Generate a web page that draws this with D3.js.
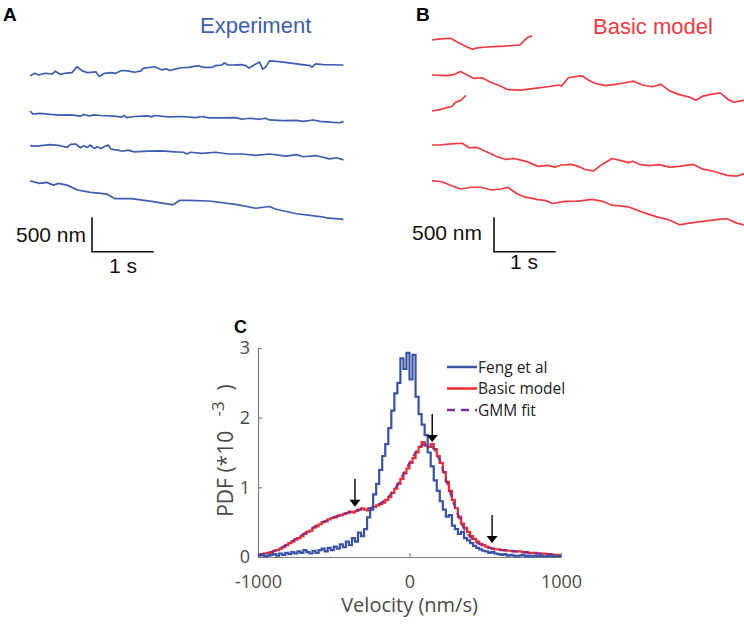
<!DOCTYPE html>
<html><head><meta charset="utf-8">
<script src="https://cdn.jsdelivr.net/npm/d3@7"></script>
<style>body{margin:0;background:#fff}svg{display:block}</style>
</head><body>
<svg id="chart" width="744" height="626"></svg>
<script>
// ---------- DATA ----------
// Panel A: experimental traces, [time (s), displacement (nm)]
const expTrace1 = [[0,0],[0.08,35],[0.14,10],[0.25,35],[0.36,25],[0.41,65],[0.49,20],[0.57,35],[0.68,45],[0.76,130],[0.85,70],[0.93,45],[1.07,55],[1.12,-10],[1.21,35],[1.31,45],[1.39,35],[1.48,75],[1.59,70],[1.69,50],[1.80,70],[1.83,105],[2.02,130],[2.13,85],[2.21,100],[2.27,75],[2.35,95],[2.45,115],[2.57,120],[2.73,145],[2.81,120],[2.95,120],[3.00,145],[3.11,155],[3.15,185],[3.21,155],[3.28,155],[3.42,160],[3.50,145],[3.55,110],[3.63,155],[3.72,200],[3.77,95],[3.82,125],[3.88,215],[4.04,205],[4.54,145],[4.57,125],[4.63,170],[4.75,160],[5.08,155]];
const expTrace2 = [[0,0],[0.05,-45],[0.16,-35],[0.33,-50],[0.49,-60],[0.66,-55],[0.82,-75],[0.87,-50],[0.96,-70],[1.04,-55],[1.15,-65],[1.37,-75],[1.48,-90],[1.53,-65],[1.56,-95],[1.69,-80],[1.91,-70],[1.97,-85],[2.02,-65],[2.24,-85],[2.46,-80],[2.68,-95],[2.79,-80],[2.90,-100],[3.11,-100],[3.33,-95],[3.44,-120],[3.55,-105],[3.72,-120],[3.82,-105],[3.88,-130],[4.10,-140],[4.32,-135],[4.43,-150],[4.59,-130],[4.70,-150],[4.92,-165],[5.03,-170],[5.08,-150]];
const expTrace3 = [[0,0],[0.11,-5],[0.33,15],[0.49,0],[0.60,-25],[0.66,20],[0.74,25],[0.82,-30],[0.87,0],[0.93,-25],[0.98,10],[1.04,-40],[1.09,-15],[1.15,-40],[1.20,-15],[1.27,10],[1.31,-50],[1.42,-65],[1.50,-80],[1.59,-65],[1.69,-90],[1.91,-80],[2.13,-75],[2.35,-90],[2.49,-95],[2.54,-120],[2.60,-95],[2.79,-110],[3.01,-95],[3.22,-120],[3.44,-120],[3.66,-140],[3.88,-120],[4.15,-150],[4.32,-130],[4.43,-160],[4.64,-145],[4.86,-190],[4.97,-175],[5.08,-205]];
const expTrace4 = [[0,0],[0.16,-35],[0.27,-20],[0.38,-60],[0.46,-35],[0.60,-60],[0.77,-130],[0.98,-165],[1.15,-180],[1.26,-195],[1.37,-255],[1.64,-255],[1.97,-295],[2.32,-345],[2.43,-280],[2.57,-280],[2.90,-290],[3.33,-340],[3.66,-395],[3.88,-370],[3.99,-410],[4.32,-475],[4.70,-515],[4.81,-535],[5.08,-555]];
// Panel B: basic model traces
const modelTrace1 = [[0,0],[0.13,15],[0.30,25],[0.40,-25],[0.51,-75],[0.65,-135],[0.73,-115],[0.84,-105],[1.00,-95],[1.17,-90],[1.31,-80],[1.43,-70],[1.50,0],[1.55,35],[1.62,60]];
const modelTrace2 = [[0,0],[0.24,-10],[0.35,5],[0.46,50],[0.54,15],[0.68,-50],[0.81,-40],[0.95,-105],[1.11,-160],[1.22,-210],[1.44,-220],[1.66,-195],[1.88,-170],[2.05,-145],[2.10,-160],[2.21,-40],[2.43,-10],[2.54,-75],[2.64,-120],[2.81,-155],[2.97,-135],[3.08,-120],[3.27,-90],[3.41,-145],[3.57,-170],[3.71,-135],[3.85,-230],[4.01,-285],[4.17,-320],[4.28,-365],[4.39,-305],[4.50,-285],[4.67,-260],[4.72,-295],[4.80,-355],[4.89,-395],[5.00,-375],[5.10,-355]];
const modelTrace3 = [[0,0],[0.13,20],[0.24,50],[0.32,65],[0.38,125],[0.46,150],[0.51,190],[0.55,225]];
const modelTrace4 = [[0,0],[0.13,0],[0.30,15],[0.49,25],[0.60,-40],[0.73,-35],[0.90,-105],[1.06,-170],[1.20,-210],[1.33,-195],[1.44,-220],[1.55,-245],[1.72,-310],[1.88,-295],[1.99,-320],[2.10,-290],[2.26,-280],[2.37,-310],[2.48,-355],[2.62,-375],[2.75,-285],[2.92,-195],[3.08,-230],[3.19,-255],[3.25,-235],[3.36,-280],[3.52,-300],[3.68,-285],[3.85,-320],[4.01,-310],[4.23,-280],[4.39,-350],[4.56,-380],[4.78,-440],[4.94,-450],[5.08,-410]];
const modelTrace5 = [[0,0],[0.16,-15],[0.30,-65],[0.46,-120],[0.63,-95],[0.79,-95],[0.96,-135],[1.12,-120],[1.23,-95],[1.37,-185],[1.50,-235],[1.72,-275],[1.83,-285],[1.96,-330],[2.15,-300],[2.37,-295],[2.59,-270],[2.75,-295],[2.92,-355],[3.19,-380],[3.41,-455],[3.63,-520],[3.85,-570],[4.01,-640],[4.17,-615],[4.39,-590],[4.61,-565],[4.78,-550],[4.94,-615],[5.10,-650]];
const scaleBarTime = 1;    // s
const scaleBarDist = 500;  // nm

// Panel C: velocity histograms (PDF, units of 1e-3), bins of 20 nm/s from -1000
const binStart = -1000, binWidth = 20;
const fengPDF = [0.02,0.03,0.01,0.02,0.03,0.04,0.02,0.05,0.03,0.06,
  0.04,0.07,0.05,0.08,0.06,0.10,0.07,0.05,0.09,0.06,
  0.10,0.12,0.08,0.13,0.10,0.15,0.12,0.18,0.14,0.22,
  0.17,0.27,0.22,0.35,0.30,0.40,0.57,0.68,0.90,1.05,
  1.25,1.45,1.62,1.85,2.10,2.35,2.50,2.85,2.70,2.93,
  2.55,2.90,2.30,2.05,1.90,1.75,1.50,1.30,1.10,0.95,
  0.80,0.68,0.58,0.60,0.45,0.40,0.33,0.36,0.27,0.24,
  0.20,0.16,0.13,0.11,0.09,0.08,0.06,0.07,0.05,0.04,
  0.03,0.04,0.02,0.03,0.02,0.01,0.02,0.03,0.01,0.02,
  0.01,0.02,0.01,0.02,0.01,0.01,0.02,0.01,0.01,0.01];
const modelPDF = [0.03,0.04,0.05,0.06,0.07,0.09,0.10,0.12,0.14,0.17,
  0.20,0.22,0.25,0.27,0.30,0.33,0.36,0.38,0.42,0.44,
  0.47,0.50,0.51,0.54,0.56,0.57,0.59,0.60,0.62,0.63,
  0.65,0.64,0.66,0.68,0.70,0.68,0.67,0.70,0.72,0.74,
  0.76,0.78,0.82,0.86,0.92,0.98,1.05,1.12,1.20,1.27,
  1.35,1.42,1.50,1.58,1.65,1.60,1.58,1.62,1.55,1.45,
  1.35,1.22,1.08,0.95,0.82,0.70,0.58,0.48,0.42,0.36,
  0.30,0.26,0.22,0.19,0.17,0.15,0.13,0.12,0.11,0.11,
  0.10,0.10,0.09,0.09,0.08,0.08,0.08,0.07,0.07,0.06,
  0.06,0.06,0.05,0.05,0.05,0.04,0.04,0.03,0.03,0.02];
const gmmV   = [-1000,-950,-900,-850,-800,-750,-700,-650,-600,-550,-500,-450,-400,-350,-300,-250,-200,-150,-100,-50,0,50,100,150,200,250,300,350,400,450,500,550,600,650,700,750,800,850,900,950,1000];
const gmmPDF = [0.03,0.05,0.08,0.13,0.19,0.26,0.33,0.40,0.47,0.52,0.57,0.61,0.64,0.67,0.69,0.71,0.76,0.84,0.97,1.15,1.35,1.53,1.62,1.58,1.38,1.05,0.72,0.45,0.29,0.20,0.15,0.12,0.10,0.09,0.08,0.07,0.06,0.05,0.04,0.03,0.02];
const arrowV   = [-360, 150, 545];
const arrowPDF = [0.72, 1.65, 0.20];
const xTicks = [-1000, 0, 1000];
const yTicks = [0, 1, 2, 3];
const legendLabels = ["Feng et al", "Basic model", "GMM fit"];

// ---------- STYLE ----------
const BLUE = "#3b5eb0", RED = "#ef3a42";
const HBLUE = "#3a52a4", HRED = "#ee2b31", PURPLE = "#7b2f92";
const svg = d3.select("#chart");
const sans = "'Liberation Sans', Arial, sans-serif";
const myriad = "'Open Sans', 'Noto Sans', sans-serif";

// ---------- PANELS A & B ----------
const tScale = d3.scaleLinear().domain([0, 1]).range([0, 61.7]);
const nmScale = d3.scaleLinear().domain([0, 500]).range([0, -34.5]);
const traceLine = d3.line().x(d => tScale(d[0])).y(d => nmScale(d[1]));

function drawPanel(traces, x0, baselines, color) {
  const g = svg.append("g");
  traces.forEach((tr, i) => {
    g.append("path").datum(tr)
      .attr("transform", `translate(${x0},${baselines[i]})`)
      .attr("d", traceLine).attr("fill", "none")
      .attr("stroke", color).attr("stroke-width", 1.7)
      .attr("stroke-linejoin", "round");
  });
}
drawPanel([expTrace1, expTrace2, expTrace3, expTrace4], 30, [75.7, 111, 145.7, 181], BLUE);
drawPanel([modelTrace1, modelTrace2, modelTrace3, modelTrace4, modelTrace5], 432, [40, 75, 111, 145, 180.7], RED);

function scaleBar(x, y, labelX, oneSX, oneSY, nmY) {
  const g = svg.append("g").attr("transform", `translate(${x},${y})`);
  g.append("path")
    .attr("d", `M0,${nmScale(scaleBarDist)}V0H${tScale(scaleBarTime)}`)
    .attr("fill", "none").attr("stroke", "#111").attr("stroke-width", 1.6);
  svg.append("text").attr("x", labelX).attr("y", nmY).attr("text-anchor", "end")
    .attr("font-family", sans).attr("font-size", 21).attr("fill", "#111").text(`${scaleBarDist} nm`);
  svg.append("text").attr("x", oneSX).attr("y", oneSY).attr("text-anchor", "middle")
    .attr("font-family", sans).attr("font-size", 21).attr("fill", "#111").text(`${scaleBarTime} s`);
}
scaleBar(92, 251.7, 86, 123, 273, 242);
scaleBar(494, 251.7, 482, 524, 269, 240);

svg.append("text").attr("x", 3).attr("y", 21).attr("font-family", sans).attr("font-weight", "bold")
  .attr("font-size", 19).attr("fill", "#000").text("A");
svg.append("text").attr("x", 416).attr("y", 21).attr("font-family", sans).attr("font-weight", "bold")
  .attr("font-size", 19).attr("fill", "#000").text("B");
svg.append("text").attr("x", 200).attr("y", 33).attr("font-family", sans)
  .attr("font-size", 22).attr("fill", BLUE).text("Experiment");
svg.append("text").attr("x", 593).attr("y", 34).attr("font-family", sans)
  .attr("font-size", 22).attr("fill", RED).text("Basic model");

// ---------- PANEL C ----------
const x = d3.scaleLinear().domain([-1000, 1000]).range([258, 561]);
const y = d3.scaleLinear().domain([0, 3]).range([557, 348]);
const gC = svg.append("g");

const xAxis = gC.append("g").attr("transform", `translate(0,${y(0)})`)
  .call(d3.axisBottom(x).tickValues(xTicks).tickSizeInner(-4).tickSizeOuter(0).tickPadding(18)
    .tickFormat(d => String(d)));
const yAxis = gC.append("g").attr("transform", `translate(${x(-1000)},0)`)
  .call(d3.axisLeft(y).tickValues(yTicks).tickSizeInner(-4).tickSizeOuter(0).tickPadding(8)
    .tickFormat(d => String(d)));
[xAxis, yAxis].forEach(a => {
  a.select(".domain").attr("stroke", "#7f7f7f").attr("stroke-width", 1.2);
  a.selectAll(".tick line").attr("stroke", "#7f7f7f").attr("stroke-width", 1.2);
  a.selectAll(".tick text").attr("font-family", myriad).attr("font-size", 18).attr("fill", "#4a4a4a");
});

function stepPoints(vals) {
  const pts = vals.map((v, i) => [binStart + i * binWidth, v]);
  pts.push([binStart + vals.length * binWidth, vals[vals.length - 1]]);
  return pts;
}
const stepLine = d3.line().x(d => x(d[0])).y(d => y(d[1])).curve(d3.curveStepAfter);
gC.append("path").datum(stepPoints(modelPDF)).attr("d", stepLine)
  .attr("fill", "none").attr("stroke", HRED).attr("stroke-width", 2.2);
gC.append("path").datum(gmmV.map((v, i) => [v, gmmPDF[i]]))
  .attr("d", d3.line().x(d => x(d[0])).y(d => y(d[1])).curve(d3.curveMonotoneX))
  .attr("fill", "none").attr("stroke", PURPLE).attr("stroke-width", 2.2)
  .attr("stroke-dasharray", "7,5").attr("opacity", 0.9);
gC.append("path").datum(stepPoints(fengPDF)).attr("d", stepLine)
  .attr("fill", "none").attr("stroke", HBLUE).attr("stroke-width", 2.2);

// arrows
arrowV.forEach((v, i) => {
  const ax = x(v), ay = y(arrowPDF[i]);
  gC.append("line").attr("x1", ax).attr("x2", ax).attr("y1", ay - 28).attr("y2", ay - 6)
    .attr("stroke", "#000").attr("stroke-width", 1.4);
  gC.append("path").attr("d", `M${ax - 5.5},${ay - 7}L${ax + 5.5},${ay - 7}L${ax},${ay}Z`).attr("fill", "#000");
});

// legend
const legColors = [HBLUE, HRED, PURPLE];
legendLabels.forEach((lab, i) => {
  const ly = 367 + i * 21.5;
  gC.append("line").attr("x1", 447).attr("x2", 477).attr("y1", ly).attr("y2", ly)
    .attr("stroke", legColors[i]).attr("stroke-width", 2.5)
    .attr("stroke-dasharray", i === 2 ? "8,6" : null);
  gC.append("text").attr("x", 478).attr("y", ly + 5.5).attr("font-family", myriad)
    .attr("font-size", 15.5).attr("fill", "#222").text(lab);
});

// axis labels
gC.append("text").attr("x", x(0)).attr("y", 612).attr("text-anchor", "middle")
  .attr("font-family", myriad).attr("font-size", 20).attr("fill", "#4a4a4a").text("Velocity (nm/s)");
const yl = gC.append("text").attr("transform", `translate(233,${(y(0) + y(3)) / 2 - 2}) rotate(-90)`)
  .attr("text-anchor", "middle").attr("font-family", myriad).attr("font-size", 21).attr("fill", "#4a4a4a")
  .attr("xml:space", "preserve");
yl.append("tspan").text("PDF (*10 ");
yl.append("tspan").attr("dy", -9).attr("font-size", 17).text("  -3");
yl.append("tspan").attr("dy", 9).text("  )");

svg.append("text").attr("x", 234).attr("y", 333).attr("font-family", sans).attr("font-weight", "bold")
  .attr("font-size", 18).attr("fill", "#000").text("C");
</script>
</body></html>
